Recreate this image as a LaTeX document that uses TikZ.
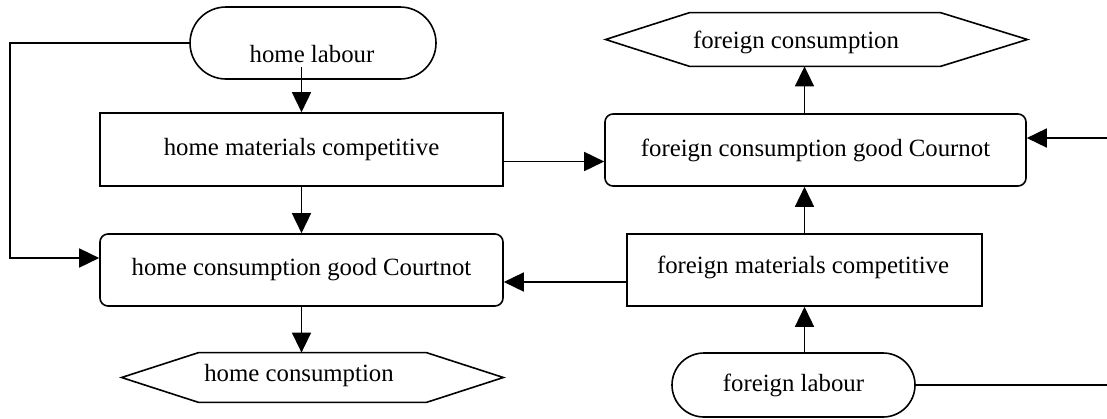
\documentclass[tikz,border=0pt]{standalone}
\usepackage{fontspec}
\setmainfont{Liberation Serif}
\usetikzlibrary{calc,arrows.meta}
\begin{document}
\begin{tikzpicture}[x=0.5pt,y=-0.5pt,
  font=\fontsize{12.4}{14}\selectfont,
  base/.style={draw=black,line width=0.8pt,inner sep=0pt},
  procbox/.style={base,rectangle},
  roundbox/.style={base,rectangle,rounded corners=4pt},
  termbox/.style={base,rectangle},
  hexbox/.style={inner sep=0pt},
  arr/.style={line width=0.8pt,-{Triangle[length=10pt,width=9.5pt]}},
  conn/.style={line width=0.8pt}]
\useasboundingbox (0,0) rectangle (1107,418);
\clip (0,0) rectangle (1107,418);
% nodes
\node[termbox,rounded corners=18pt,minimum width=123pt,minimum height=36pt] (hl) at (313,43) {};
\node (hlt) at (312,54) {home labour};
\node[procbox,minimum width=201.5pt,minimum height=36.5pt] (hmc) at (301.5,149.5) {home materials competitive};
\node[roundbox,minimum width=201.5pt,minimum height=36pt] (hcgc) at (301.5,270) {home consumption good Courtnot};
\node[hexbox,minimum width=190.5pt,minimum height=24.5pt] (hc) at (312.5,377.5) {};
\node (hct) at (299,376) {home consumption};
\node[roundbox,minimum width=210.5pt,minimum height=36pt] (fcgc) at (815.5,150) {foreign consumption good Cournot};
\node[hexbox,minimum width=210.5pt,minimum height=26.5pt] (fc) at (816.5,39.5) {};
\node (fct) at (796,42) {foreign consumption};
\node[procbox,minimum width=177.5pt,minimum height=36pt] (fmc) at (804.5,270) {};
\node (fmct) at (803,267) {foreign materials competitive};
\node[termbox,rounded corners=16pt,minimum width=121.5pt,minimum height=32pt] (fl) at (793.5,385) {foreign labour};
% hexagon outlines
\draw[conn] (hc.west) -- ($(hc.north west)+(77,0)$) -- ($(hc.north east)+(-77,0)$) -- (hc.east)
  -- ($(hc.south east)+(-77,0)$) -- ($(hc.south west)+(77,0)$) -- cycle;
\draw[conn] (fc.west) -- ($(fc.north west)+(84,0)$) -- ($(fc.north east)+(-87,0)$) -- (fc.east)
  -- ($(fc.south east)+(-87,0)$) -- ($(fc.south west)+(84,0)$) -- cycle;
% connectors
\draw[arr] ($(hmc.north |- hl.south)+(0,-13)$) -- (hmc.north);
\coordinate (hcin) at ($(hcgc.west)+(0,-12)$);
\draw[arr] (hl.west) -- ++(-179,0) |- (hcin);
\draw[arr] (hmc.south) -- (hcgc.north);
\draw[arr] (hcgc.south) -- (hcgc.south |- hc.north);
\coordinate (a) at ($(hmc.east)+(0,12)$);
\draw[arr] (a) -- (a -| fcgc.west);
\coordinate (b) at ($(fmc.west)+(0,12)$);
\draw[arr] (b) -- (b -| hcgc.east);
\draw[arr] (fmc.north) -- (fmc.north |- fcgc.south);
\draw[arr] (fcgc.north -| fmc.north) -- (fc.south -| fmc.north);
\draw[arr] (fl.north -| fmc.south) -- (fmc.south);
\coordinate (r) at (1130,0);
\coordinate (c) at ($(fcgc.east)+(0,-12)$);
\draw[arr] (fl.east) -- (fl.east -| r) -- (r |- c) -- (c);
\end{tikzpicture}
\end{document}
